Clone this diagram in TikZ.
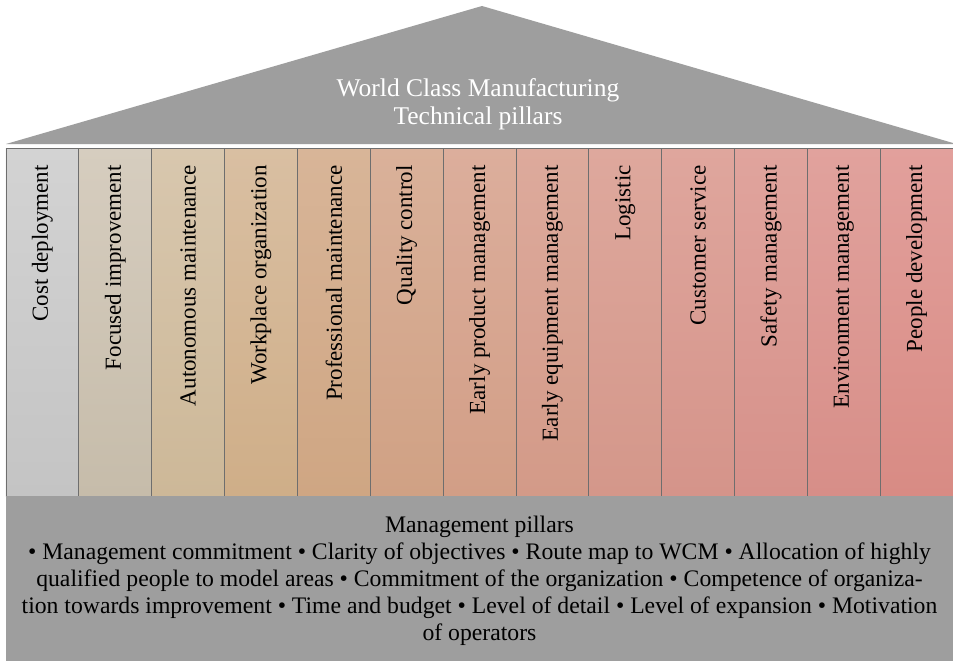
\documentclass[tikz,border=0pt]{standalone}
\usepackage{fontspec}
\setmainfont{Liberation Serif}
% pillar shades, top and bottom of each pillar
\definecolor{pt1}{HTML}{D3D3D3}\definecolor{pb1}{HTML}{C4C4C4}
\definecolor{pt2}{HTML}{D6CDBF}\definecolor{pb2}{HTML}{C6BCAA}
\definecolor{pt3}{HTML}{D8C7AE}\definecolor{pb3}{HTML}{CDB898}
\definecolor{pt4}{HTML}{D9BFA2}\definecolor{pb4}{HTML}{CFAE88}
\definecolor{pt5}{HTML}{D8B598}\definecolor{pb5}{HTML}{CFA683}
\definecolor{pt6}{HTML}{DAB19A}\definecolor{pb6}{HTML}{D0A184}
\definecolor{pt7}{HTML}{DCAE9C}\definecolor{pb7}{HTML}{D29E86}
\definecolor{pt8}{HTML}{DDAA9C}\definecolor{pb8}{HTML}{D39A88}
\definecolor{pt9}{HTML}{DEA89D}\definecolor{pb9}{HTML}{D4978A}
\definecolor{pt10}{HTML}{DFA69D}\definecolor{pb10}{HTML}{D5948A}
\definecolor{pt11}{HTML}{E0A49D}\definecolor{pb11}{HTML}{D6918A}
\definecolor{pt12}{HTML}{E1A29D}\definecolor{pb12}{HTML}{D78E88}
\definecolor{pt13}{HTML}{E2A09C}\definecolor{pb13}{HTML}{D88B84}
\definecolor{housegray}{HTML}{9E9E9E}
\definecolor{pillarline}{HTML}{6E6E6E}
\newcommand{\bul}{\textbullet}
\begin{document}
\begin{tikzpicture}[x=1pt,y=-1pt,
  pillarbox/.style={draw=pillarline,line width=0.8pt,minimum width=72.85pt,
    minimum height=348pt,inner sep=0pt,outer sep=0pt},
  pillartext/.style={rotate=90,anchor=east,inner sep=0pt,
    font=\fontsize{23}{27}\selectfont},
  rooftext/.style={text=white,align=center,font=\fontsize{25.5}{28}\selectfont},
  basetext/.style={align=center,font=\fontsize{23.7}{27}\selectfont}]
\useasboundingbox (0,0) rectangle (953,661);
\fill[white] (0,0) rectangle (953,661);
% roof
\fill[housegray] (6,144) -- (482,6) -- (953,143) -- (953,144) -- cycle;
\node[rooftext] (title) at (478,104) {World Class Manufacturing\\Technical pillars};
% technical pillars
\foreach \i/\name in {1/Cost deployment,2/Focused improvement,3/Autonomous maintenance,
  4/Workplace organization,5/Professional maintenance,6/Quality control,
  7/Early product management,8/Early equipment management,9/Logistic,
  10/Customer service,11/Safety management,12/Environment management,
  13/People development}{
  \node[pillarbox,top color=pt\i,bottom color=pb\i] (p\i) at ({6+72.846*(\i-0.5)},322) {};
  \node[pillartext] (t\i) at ([yshift=-17pt]p\i.north) {\name};
}
% management base
\node[fill=housegray,minimum width=947pt,minimum height=165pt,inner sep=0pt,
  anchor=north west] (base) at (6,496) {};
\node[basetext] (mgmt) at (479.5,581) {Management pillars\\
\bul{} Management commitment \bul{} Clarity of objectives \bul{} Route map to WCM \bul{} Allocation of highly\\
qualified people to model areas \bul{} Commitment of the organization \bul{} Competence of organiza-\\
tion towards improvement \bul{} Time and budget \bul{} Level of detail \bul{} Level of expansion \bul{} Motivation\\
of operators};
\end{tikzpicture}
\end{document}
